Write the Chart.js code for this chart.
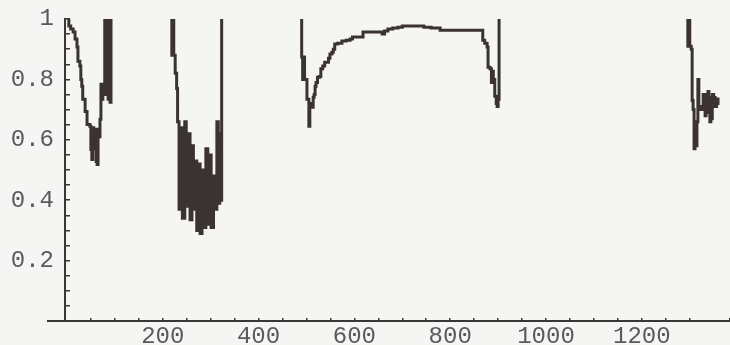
<!DOCTYPE html>
<html>
<head>
<meta charset="utf-8">
<script src="https://cdn.jsdelivr.net/npm/chart.js@4"></script>
<style>
    html, body { margin: 0; padding: 0; background: #f5f5f3; }
    canvas { display: block; }
</style>
</head>
<body>
<canvas id="grafico" width="730" height="345"></canvas>
<script>
// trechos da curva (x, valor), separados por lacunas
const trecho1X = [2, 4, 8, 13, 17, 21, 23, 27, 29, 31, 33, 38, 42, 48, 50, 52, 54, 56, 58, 61, 63, 65, 67, 69, 71, 73, 75, 77, 79, 81, 84, 86, 88, 90, 92]
const trecho1Y = [1.0, 0.977, 0.967, 0.957, 0.934, 0.907, 0.86, 0.844, 0.80, 0.777, 0.734, 0.694, 0.651, 0.645, 0.568, 0.535, 0.64, 0.57, 0.635, 0.528, 0.518, 0.635, 0.61, 0.668, 0.784, 0.734, 0.767, 0.774, 1.0, 0.75, 1.0, 0.734, 1.0, 0.724, 1.0]

const trecho2X = [217, 219, 221, 223, 226, 229, 231, 234, 238, 241, 246, 249, 253, 257, 261, 264, 268, 271, 275, 278, 282, 286, 290, 294, 298, 301, 306, 310, 313, 316, 319, 321, 323]
const trecho2Y = [1.0, 0.88, 1.0, 0.88, 0.82, 0.77, 0.66, 0.37, 0.64, 0.34, 0.66, 0.38, 0.62, 0.335, 0.58, 0.37, 0.53, 0.30, 0.52, 0.29, 0.50, 0.31, 0.57, 0.32, 0.55, 0.31, 0.48, 0.37, 0.66, 0.39, 0.62, 0.40, 1.0]

const trecho3X = [489, 490, 492, 494, 496, 499, 501, 503, 505, 507, 509, 512, 514, 516, 518, 520, 523, 527, 530, 534, 538, 543, 546, 549, 553, 556, 559, 565, 574, 583, 591, 596, 605, 616, 618, 635, 645, 653, 658, 663, 670, 680, 691, 700, 720, 741, 745, 760, 775, 779, 800, 820, 845, 866, 868, 872, 877, 879, 883, 886, 888, 890, 893, 896, 898, 900, 902]
const trecho3Y = [1.0, 0.874, 0.80, 0.874, 0.80, 0.80, 0.734, 0.734, 0.645, 0.72, 0.71, 0.708, 0.741, 0.75, 0.777, 0.79, 0.807, 0.81, 0.835, 0.844, 0.857, 0.857, 0.87, 0.884, 0.89, 0.90, 0.917, 0.92, 0.927, 0.93, 0.934, 0.94, 0.94, 0.94, 0.957, 0.957, 0.957, 0.957, 0.95, 0.96, 0.967, 0.97, 0.973, 0.977, 0.977, 0.977, 0.973, 0.97, 0.97, 0.963, 0.963, 0.963, 0.963, 0.963, 0.93, 0.92, 0.907, 0.84, 0.835, 0.79, 0.827, 0.80, 0.744, 0.72, 0.71, 0.734, 1.0]

const trecho4X = [1294, 1296, 1298, 1300, 1303, 1305, 1307, 1309, 1311, 1313, 1315, 1317, 1319, 1321, 1324, 1326, 1328, 1330, 1332, 1334, 1338, 1340, 1342, 1344, 1347, 1350, 1353, 1356, 1359]
const trecho4Y = [1.0, 0.91, 1.0, 0.91, 0.90, 0.73, 0.70, 0.57, 0.62, 0.58, 0.66, 0.80, 0.70, 0.70, 0.71, 0.70, 0.75, 0.75, 0.68, 0.69, 0.76, 0.74, 0.66, 0.67, 0.75, 0.74, 0.71, 0.72, 0.74]

// rótulos dos eixos
const rotulosX = [200, 400, 600, 800, 1000, 1200]
const rotulosY = [0.2, 0.4, 0.6, 0.8, 1]

const corLinha = '#3a3331'
const corEixo = '#3a3636'
const corTexto = '#5a5a5a'
const fonteEixo = { family: 'Liberation Mono', size: 24, lineHeight: 1 }

// junta os trechos num único conjunto, com null nas lacunas
function montarPontos() {
    const trechos = [[trecho1X, trecho1Y], [trecho2X, trecho2Y], [trecho3X, trecho3Y], [trecho4X, trecho4Y]]
    const pontos = []
    trechos.forEach(([xs, ys], i) => {
        if (i > 0) pontos.push({ x: xs[0] - 1, y: null })
        xs.forEach((x, j) => pontos.push({ x: x, y: ys[j] }))
    })
    return pontos
}

// tamanho fixo da escala, sem a folga automática dos rótulos
function fixarTamanho(scale, largura, altura) {
    if (largura) scale.width = largura
    if (altura) scale.height = altura
    scale.paddingTop = 0
    scale.paddingBottom = 0
    scale.paddingLeft = 0
    scale.paddingRight = 0
}

// prolonga o eixo x um pouco à esquerda do eixo y
const prolongaEixo = {
    id: 'prolongaEixo',
    afterDraw(chart) {
        const { ctx, chartArea } = chart
        ctx.save()
        ctx.strokeStyle = corEixo
        ctx.lineWidth = 2
        ctx.beginPath()
        ctx.moveTo(47, chartArea.bottom)
        ctx.lineTo(chartArea.left, chartArea.bottom)
        ctx.stroke()
        ctx.restore()
    }
}

new Chart(document.getElementById('grafico').getContext('2d'), {
    type: 'line',
    data: {
        datasets: [{
            data: montarPontos(),
            borderColor: corLinha,
            borderWidth: 3,
            pointRadius: 0,
            stepped: true,
            spanGaps: false,
            fill: false
        }]
    },
    options: {
        responsive: false,
        animation: false,
        layout: { padding: { top: 19, right: 0, bottom: 0, left: 0 } },
        plugins: {
            legend: { display: false },
            tooltip: { enabled: false }
        },
        scales: {
            x: {
                type: 'linear',
                position: 'bottom',
                min: -4,
                max: 1384,
                afterFit(scale) { fixarTamanho(scale, 0, 24) },
                border: { display: true, color: corEixo, width: 2 },
                grid: { drawOnChartArea: false, drawTicks: true, tickLength: -3, color: corEixo, lineWidth: 1.5 },
                ticks: {
                    stepSize: 50,
                    autoSkip: false,
                    maxRotation: 0,
                    padding: 7,
                    color: corTexto,
                    font: fonteEixo,
                    callback: v => rotulosX.includes(v) ? String(v) : ''
                }
            },
            y: {
                min: 0,
                max: 1,
                afterFit(scale) { fixarTamanho(scale, 65, 0) },
                border: { display: true, color: corEixo, width: 2 },
                grid: { drawOnChartArea: false, drawTicks: true, tickLength: -5, color: corEixo, lineWidth: 1.5 },
                ticks: {
                    stepSize: 0.05,
                    autoSkip: false,
                    padding: 16,
                    color: corTexto,
                    font: fonteEixo,
                    callback: function (v) {
                        const r = rotulosY.find(t => Math.abs(t - v) < 1e-6)
                        if (r === undefined) return ''
                        return r === 1 ? '1' : r.toFixed(1)
                    }
                }
            }
        }
    },
    plugins: [prolongaEixo]
})
</script>
</body>
</html>
